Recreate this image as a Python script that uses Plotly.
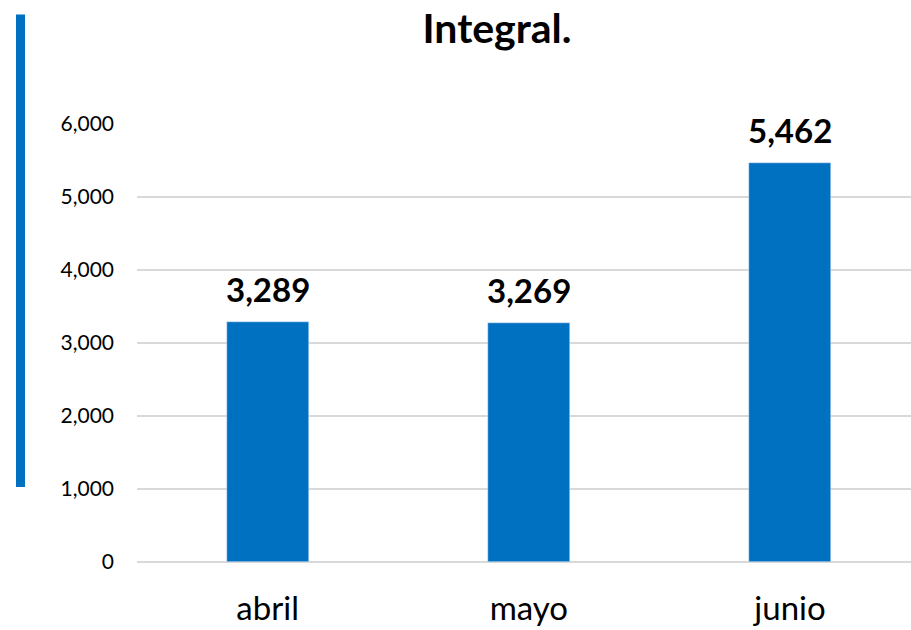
import plotly.graph_objects as go

categories = ["abril", "mayo", "junio"]
values = [3289, 3269, 5462]
y_ticks = [0, 1000, 2000, 3000, 4000, 5000, 6000]
title_text = "Integral."

BLUE = "#0070C0"
FONT = "Lato"

W, H = 911, 630
L, R, T, B = 137, 0, 123.5, 630 - 562
pw = W - L - R
ph = H - T - B

fig = go.Figure()
fig.add_trace(go.Bar(
    x=categories, y=values, marker_color=BLUE, width=0.314,
    hoverinfo="skip",
))

for c, v in zip(categories, values):
    fig.add_annotation(
        x=c, y=v, text=f"<b>{v:,}</b>", showarrow=False,
        yanchor="bottom", yshift=11,
        font=dict(family=FONT, size=33, color="#000000"),
    )

def px_x(p):
    return (p - L) / pw

def px_y(p):
    return (H - B - p) / ph

fig.add_shape(type="rect", xref="paper", yref="paper",
              x0=px_x(16), x1=px_x(25), y0=px_y(487), y1=px_y(14),
              fillcolor=BLUE, line_width=0, layer="above")

fig.update_layout(
    width=W, height=H,
    margin=dict(l=L, r=R, t=T, b=B, pad=0),
    paper_bgcolor="white", plot_bgcolor="white",
    showlegend=False,
    title=dict(text=f"<b>{title_text}</b>", x=497 / W, xanchor="center",
               y=1 - 29 / H, yanchor="middle", xref="container", yref="container",
               font=dict(family=FONT, size=41, color="#000000")),
    xaxis=dict(range=[-0.5, 2.463], showgrid=False, showline=False, zeroline=False,
               ticks="", tickfont=dict(family=FONT, size=33, color="#000000"),
               ticklabelstandoff=24),
    yaxis=dict(range=[0, 6000], tickvals=y_ticks, tickformat=",",
               showgrid=True, gridcolor="#D9D9D9", gridwidth=1.5,
               zeroline=True, zerolinecolor="#D9D9D9", zerolinewidth=1.5,
               showline=False, ticks="",
               tickfont=dict(family=FONT, size=21, color="#000000"),
               ticklabelstandoff=22),
    bargap=0,
)

fig.write_html("out.html", config={"displayModeBar": False},
               post_script="document.body.style.margin='0';document.body.style.overflow='hidden';")
